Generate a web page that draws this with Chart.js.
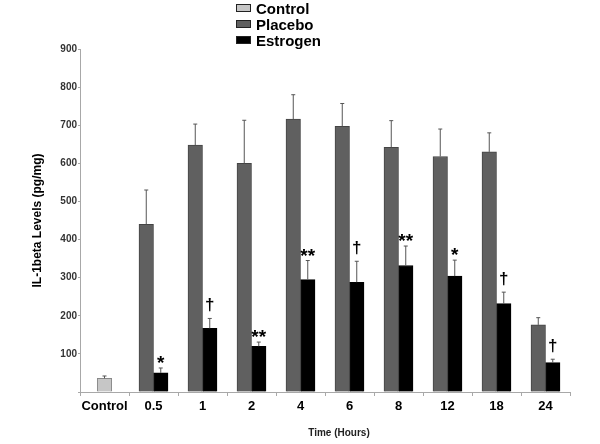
<!DOCTYPE html>
<html lang="en">
<head>
    <meta charset="UTF-8">
    <title>IL-1beta Levels</title>
    <script src="https://cdn.jsdelivr.net/npm/chart.js@4.4.1/dist/chart.umd.min.js"></script>
    <style>
        body { margin: 0; background: #fff; }
        .wrap { position: relative; width: 600px; height: 444px; }
        /* Legend, stacked like the original */
        #legend {
            position: absolute;
            left: 236px;
            top: 0px;
            font-family: 'Liberation Sans', Arial, sans-serif;
            font-weight: bold;
            font-size: 15px;
            color: #000;
        }
        #legend .row { display: flex; align-items: center; height: 16px; }
        #legend .box { width: 13px; height: 6px; margin-right: 5px; border: 1.5px solid #222; }
    </style>
</head>
<body>
<div class="wrap">
    <canvas id="myChart" width="600" height="444"></canvas>
    <div id="legend"></div>
</div>

<script>
    // data
    var categories = ['Control', '0.5', '1', '2', '4', '6', '8', '12', '18', '24'];
    var controlValues = [36, null, null, null, null, null, null, null, null, null];
    var controlErrors = [6, null, null, null, null, null, null, null, null, null];
    var placeboValues = [null, 440, 648, 600, 716, 697, 642, 618, 630, 176];
    var placeboErrors = [null, 90, 55, 113, 64, 60, 70, 72, 50, 19];
    var estrogenValues = [null, 50, 167, 120, 295, 288, 332, 304, 232, 77];
    var estrogenErrors = [null, 13, 26, 11, 50, 55, 51, 42, 30, 9];
    var significance = ['', '*', '\u2020', '**', '**', '\u2020', '**', '*', '\u2020', '\u2020'];

    var FONT = "'Liberation Sans', Arial, sans-serif";
    var errorSets = [controlErrors, placeboErrors, estrogenErrors];

    // error bars (upper half only) + significance marks
    var errorBarPlugin = {
        id: 'errorBars',
        afterDatasetsDraw: function(chart) {
            var ctx = chart.ctx;
            var y = chart.scales.y;
            ctx.save();
            chart.data.datasets.forEach(function(ds, di) {
                var meta = chart.getDatasetMeta(di);
                meta.data.forEach(function(bar, i) {
                    var v = ds.data[i];
                    var e = errorSets[di][i];
                    if (v == null || e == null) return;
                    var top = y.getPixelForValue(v + e);
                    ctx.strokeStyle = '#555';
                    ctx.lineWidth = 1;
                    ctx.beginPath();
                    ctx.moveTo(bar.x, bar.y);
                    ctx.lineTo(bar.x, top);
                    ctx.moveTo(bar.x - 2, top);
                    ctx.lineTo(bar.x + 2, top);
                    ctx.stroke();

                    if (di === 2 && significance[i]) {
                        var mark = significance[i];
                        ctx.fillStyle = '#000';
                        ctx.textAlign = 'center';
                        ctx.textBaseline = 'alphabetic';
                        if (mark === '\u2020') {
                            ctx.font = 'bold 17px ' + FONT;
                            ctx.fillText(mark, bar.x, top - 8);
                        } else {
                            ctx.font = 'bold 19px ' + FONT;
                            ctx.fillText(mark, bar.x, top + 1);
                        }
                    }
                });
            });
            ctx.restore();
        },
        afterDraw: function(chart) {
            // x axis title sits a bit right of centre in the original
            var ctx = chart.ctx;
            var x = chart.scales.x;
            ctx.save();
            ctx.font = 'bold 10px ' + FONT;
            ctx.fillStyle = '#222';
            ctx.textAlign = 'center';
            ctx.textBaseline = 'middle';
            ctx.fillText('Time (Hours)', (x.left + x.right) / 2 + 14, 433);
            ctx.restore();
        }
    };

    var ctx = document.getElementById('myChart').getContext('2d');
    var myChart = new Chart(ctx, {
        type: 'bar',
        data: {
            labels: categories,
            datasets: [{
                label: 'Control',
                data: controlValues,
                backgroundColor: '#c6c6c6',
                borderColor: '#888',
                borderWidth: 1
            }, {
                label: 'Placebo',
                data: placeboValues,
                backgroundColor: '#606060',
                borderColor: '#444',
                borderWidth: 1
            }, {
                label: 'Estrogen',
                data: estrogenValues,
                backgroundColor: '#000',
                borderColor: '#000',
                borderWidth: 1
            }]
        },
        options: {
            responsive: false,
            animation: false,
            devicePixelRatio: 1,
            skipNull: true,
            barThickness: 14.5,
            layout: { padding: { top: 49, right: 30, left: 0, bottom: 0 } },
            plugins: {
                legend: { display: false },
                tooltip: { enabled: false }
            },
            scales: {
                x: {
                    afterFit: function(s) { s.height = 52; },
                    border: { color: '#a8a8a8', width: 1 },
                    grid: { drawOnChartArea: false, tickLength: 4, color: '#a8a8a8', offset: true },
                    ticks: {
                        padding: 3,
                        maxRotation: 0,
                        minRotation: 0,
                        autoSkip: false,
                        color: '#000',
                        font: { family: FONT, size: 13, weight: 'bold' }
                    }
                },
                y: {
                    min: 0,
                    max: 900,
                    afterFit: function(s) { s.width = 80; },
                    border: { color: '#a8a8a8', width: 1 },
                    grid: { drawOnChartArea: false, tickLength: 2, color: '#a8a8a8' },
                    ticks: {
                        stepSize: 100,
                        padding: 1,
                        color: '#333',
                        font: { family: FONT, size: 10, weight: 'bold' },
                        callback: function(v) { return v === 0 ? '' : v; }
                    },
                    title: {
                        display: true,
                        text: 'IL-1beta Levels (pg/mg)',
                        color: '#000',
                        font: { family: FONT, size: 12, weight: 'bold' },
                        padding: { top: 30 }
                    }
                }
            }
        },
        plugins: [errorBarPlugin]
    });

    // build the stacked legend from the datasets
    var legend = document.getElementById('legend');
    myChart.data.datasets.forEach(function(ds) {
        var row = document.createElement('div');
        row.className = 'row';
        var box = document.createElement('span');
        box.className = 'box';
        box.style.background = ds.backgroundColor;
        row.appendChild(box);
        row.appendChild(document.createTextNode(ds.label));
        legend.appendChild(row);
    });
</script>
</body>
</html>
